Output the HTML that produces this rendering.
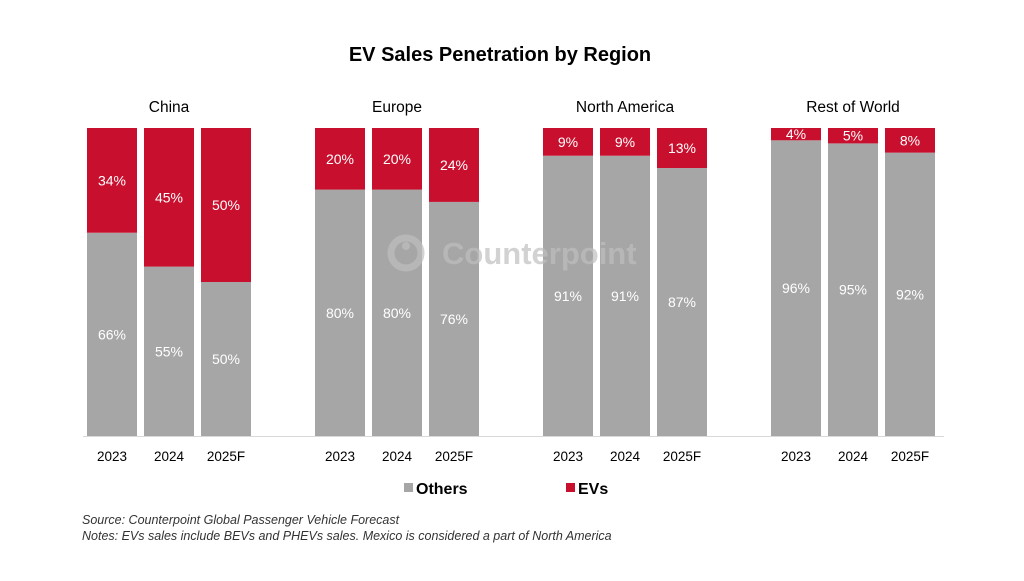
<!DOCTYPE html>
<html><head><meta charset="utf-8"><style>
body{margin:0;background:#fff;font-family:"Liberation Sans",Arial,sans-serif}
svg text{font-family:"Liberation Sans",Arial,sans-serif}
</style></head><body>
<svg id="c" width="1024" height="576" viewBox="0 0 1024 576" xmlns="http://www.w3.org/2000/svg">
<rect width="1024" height="576" fill="#fff"/>
<text x="500" y="61" text-anchor="middle" font-size="20" font-weight="bold" fill="#000">EV Sales Penetration by Region</text>
<g id="bars"></g>
<line x1="83" y1="436.5" x2="944" y2="436.5" stroke="#d9d9d9" stroke-width="1"/>
<g opacity="0.7">
<circle cx="406" cy="253" r="15" fill="none" stroke="#bfbfbf" stroke-width="7"/>
<circle cx="406" cy="246" r="4" fill="#bfbfbf"/>
<text x="442" y="264" font-size="31" font-weight="bold" fill="#bfbfbf">Counterpoint</text>
</g>
<g>
<rect x="404" y="483" width="9" height="9" fill="#a6a6a6"/>
<text x="416" y="494" font-size="16" font-weight="bold" fill="#000">Others</text>
<rect x="566" y="483" width="9" height="9" fill="#c8102e"/>
<text x="578" y="494" font-size="16" font-weight="bold" fill="#000">EVs</text>
</g>
<text x="82" y="524" font-size="12.5" font-style="italic" fill="#333">Source: Counterpoint Global Passenger Vehicle Forecast</text>
<text x="82" y="540" font-size="12.5" font-style="italic" fill="#333">Notes: EVs sales include BEVs and PHEVs sales. Mexico is considered a part of North America</text>
</svg>
<script>
const regions=["China","Europe","North America","Rest of World"];
const years=["2023","2024","2025F"];
const evs=[[34,45,50],[20,20,24],[9,9,13],[4,5,8]];
const others=[[66,55,50],[80,80,76],[91,91,87],[96,95,92]];
const NS="http://www.w3.org/2000/svg";
const g=document.getElementById("bars");
const top0=128,bot=436,H=bot-top0;
const y=v=>bot-v/100*H;
function bx(r,i){return 87+r*228+i*57;}
const W=50;
function mk(t,a){const e=document.createElementNS(NS,t);for(const k in a)e.setAttribute(k,a[k]);g.appendChild(e);return e;}
regions.forEach((rn,r)=>{
  const t=mk("text",{x:bx(r,1)+W/2,y:112,"text-anchor":"middle","font-size":15.5,fill:"#000"});
  t.textContent=rn;
  
  
  years.forEach((yr,i)=>{
    const x=bx(r,i),o=others[r][i],e=evs[r][i],tot=o+e;
    const oy=y(o/tot*100);
    const ro=mk("rect",{x:x,y:oy,width:W,height:bot-oy,fill:"#a6a6a6"});
    
    
    const re=mk("rect",{x:x,y:top0,width:W,height:oy-top0,fill:"#c8102e"});
    
    
    const lo=mk("text",{x:x+W/2,y:(oy+bot)/2+5,"text-anchor":"middle","font-size":14,fill:"#fff"});
    lo.textContent=o+"%";
    
    
    const le=mk("text",{x:x+W/2,y:(top0+oy)/2+5,"text-anchor":"middle","font-size":14,fill:"#fff"});
    le.textContent=e+"%";
    
    
    const yl=mk("text",{x:x+W/2,y:461,"text-anchor":"middle","font-size":13.5,fill:"#000"});
    yl.textContent=yr;
    
    
  });
});
</script>
</body></html>
